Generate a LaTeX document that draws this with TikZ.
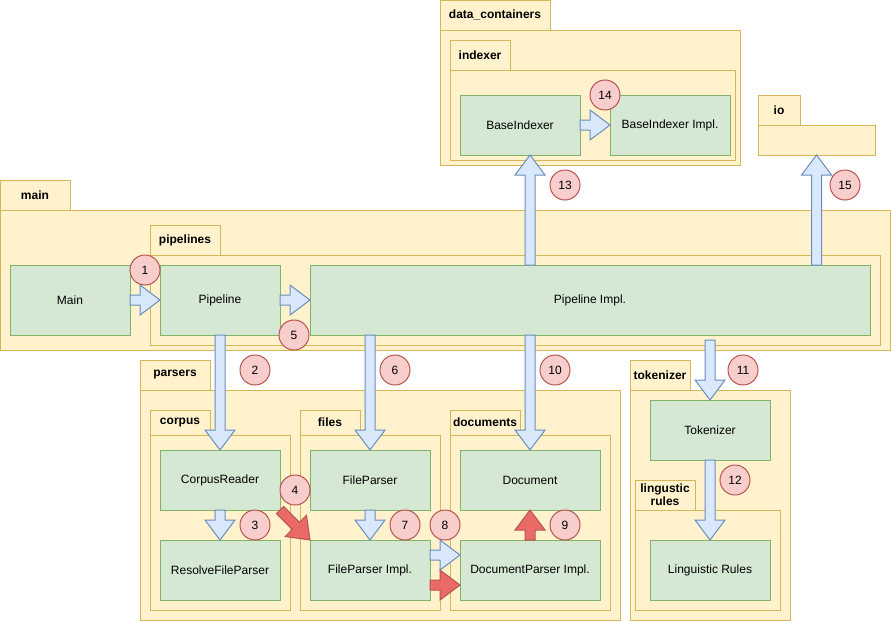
\documentclass[tikz,border=0pt]{standalone}
\usepackage{fontspec}
\setmainfont{Liberation Sans}
\usetikzlibrary{calc}

\definecolor{pkgfill}{HTML}{FFF2CC}
\definecolor{pkgline}{HTML}{D6B656}
\definecolor{clsfill}{HTML}{D5E8D4}
\definecolor{clsline}{HTML}{82B366}
\definecolor{blufill}{HTML}{DAE8FC}
\definecolor{bluline}{HTML}{6C8EBF}
\definecolor{numfill}{HTML}{F8CECC}
\definecolor{numline}{HTML}{B85450}
\definecolor{redfill}{HTML}{EA6B66}

\newcommand{\umlpkg}[7]{%
  \node[pkgtab, minimum width=#4, minimum height=#5, anchor=north west] (#1-tab) at (#3) {#2};
  \node[pkgbody, minimum width=#6, minimum height=#7, anchor=north west] (#1) at (#1-tab.south west) {};
}
\newcommand{\fatarrow}[3]{%
  \coordinate (fh) at ($(#3)!20pt!(#2)$);
  \draw[#1] ($(#2)!5pt!90:(#3)$) -- ($(fh)!5pt!90:(#3)$) -- ($(fh)!15pt!90:(#3)$) -- (#3)
    -- ($(fh)!15pt!-90:(#3)$) -- ($(fh)!5pt!-90:(#3)$) -- ($(#2)!5pt!-90:(#3)$) -- cycle;
}

\begin{document}
\begin{tikzpicture}[x=1pt, y=-1pt, font=\fontsize{12}{14}\selectfont, line width=1pt,
  pkgtab/.style={draw=pkgline, fill=pkgfill, font=\fontsize{12}{13}\selectfont\bfseries, inner sep=0pt, outer sep=0pt, align=center},
  pkgbody/.style={draw=pkgline, fill=pkgfill, inner sep=0pt, outer sep=0pt},
  cls/.style={draw=clsline, fill=clsfill, minimum width=120pt, minimum height=60pt, inner sep=0pt, outer sep=0pt},
  num/.style={circle, draw=numline, fill=numfill, minimum size=30pt, inner sep=0pt},
  bluearr/.style={draw=bluline, fill=blufill},
  redarr/.style={draw=numline, fill=redfill}]
\useasboundingbox (0,0) rectangle (891,621);

\umlpkg{dc}{data\_containers}{440,0}{110pt}{30pt}{300pt}{135pt}
\umlpkg{idx}{indexer}{450,40}{60pt}{30pt}{285pt}{90pt}
\umlpkg{io}{io}{758,95}{42pt}{30pt}{117pt}{30pt}
\umlpkg{mainpkg}{main}{0,180}{70pt}{30pt}{890pt}{140pt}
\umlpkg{pl}{pipelines}{150,225}{70pt}{30pt}{730pt}{90pt}
\umlpkg{prs}{parsers}{140,360}{70pt}{30pt}{480pt}{230pt}
\umlpkg{crp}{corpus}{150,410}{60pt}{25pt}{140pt}{175pt}
\umlpkg{fls}{files}{300,410}{60pt}{25pt}{140pt}{175pt}
\umlpkg{docs}{documents}{450,410}{70pt}{25pt}{160pt}{175pt}
\umlpkg{tkz}{tokenizer}{630,360}{60pt}{30pt}{160pt}{230pt}
\umlpkg{lng}{lingustic\\rules}{635,480}{60pt}{30pt}{145pt}{100pt}

\node[cls] (bi) at (520,125) {BaseIndexer};
\node[cls] (bii) at (670,125) {BaseIndexer Impl.};
\node[cls, minimum height=70pt] (mainc) at (70,300) {Main};
\node[cls, minimum height=70pt] (pipe) at (220,300) {Pipeline};
\node[cls, minimum width=560pt, minimum height=70pt] (pimpl) at (590,300) {Pipeline Impl.};
\node[cls] (crd) at (220,480) {CorpusReader};
\node[cls] (rfp) at (220,570) {ResolveFileParser};
\node[cls] (fp) at (370,480) {FileParser};
\node[cls] (fpi) at (370,570) {FileParser Impl.};
\node[cls, minimum width=140pt] (doc) at (530,480) {Document};
\node[cls, minimum width=140pt] (dpi) at (530,570) {DocumentParser Impl.};
\node[cls] (tok) at (710,430) {Tokenizer};
\node[cls] (lr) at (710,570) {Linguistic Rules};

\coordinate (a13s) at ($(bi.south |- pimpl.north)+(10,0)$);
\coordinate (a13e) at ($(bi.south)+(10,0)$);
\coordinate (a15s) at (io.south |- pimpl.north);
\coordinate (a6s) at (fp.north |- pimpl.south);
\coordinate (a10s) at (doc.north |- pimpl.south);
\coordinate (a11s) at ($(tok.north |- pimpl.south)+(0,5)$);
\coordinate (a8s) at ($(fpi.east)+(0,-15)$);
\coordinate (a8e) at ($(dpi.west)+(0,-15)$);
\coordinate (a8rs) at ($(fpi.east)+(0,15)$);
\coordinate (a8re) at ($(dpi.west)+(0,15)$);

\fatarrow{bluearr}{bi.east}{bii.west}
\fatarrow{bluearr}{a13s}{a13e}
\fatarrow{bluearr}{a15s}{io.south}
\fatarrow{bluearr}{mainc.east}{pipe.west}
\fatarrow{bluearr}{pipe.east}{pimpl.west}
\fatarrow{bluearr}{pipe.south}{crd.north}
\fatarrow{bluearr}{crd.south}{rfp.north}
\fatarrow{redarr}{crd.south east}{fpi.north west}
\fatarrow{bluearr}{a6s}{fp.north}
\fatarrow{bluearr}{fp.south}{fpi.north}
\fatarrow{bluearr}{a8s}{a8e}
\fatarrow{redarr}{a8rs}{a8re}
\fatarrow{redarr}{dpi.north}{doc.south}
\fatarrow{bluearr}{a10s}{doc.north}
\fatarrow{bluearr}{a11s}{tok.north}
\fatarrow{bluearr}{tok.south}{lr.north}

\node[num] (n1) at (145,270) {1};
\node[num] (n2) at (255,370) {2};
\node[num] (n3) at (255,525) {3};
\node[num] (n4) at (295,490) {4};
\node[num] (n5) at (294,335) {5};
\node[num] (n6) at (395,370) {6};
\node[num] (n7) at (405,525) {7};
\node[num] (n8) at (445,525) {8};
\node[num] (n9) at (565,525) {9};
\node[num] (n10) at (555,370) {10};
\node[num] (n11) at (743,370) {11};
\node[num] (n12) at (735,480) {12};
\node[num] (n13) at (565,185) {13};
\node[num] (n14) at (605,95) {14};
\node[num] (n15) at (845,185) {15};
\end{tikzpicture}
\end{document}
